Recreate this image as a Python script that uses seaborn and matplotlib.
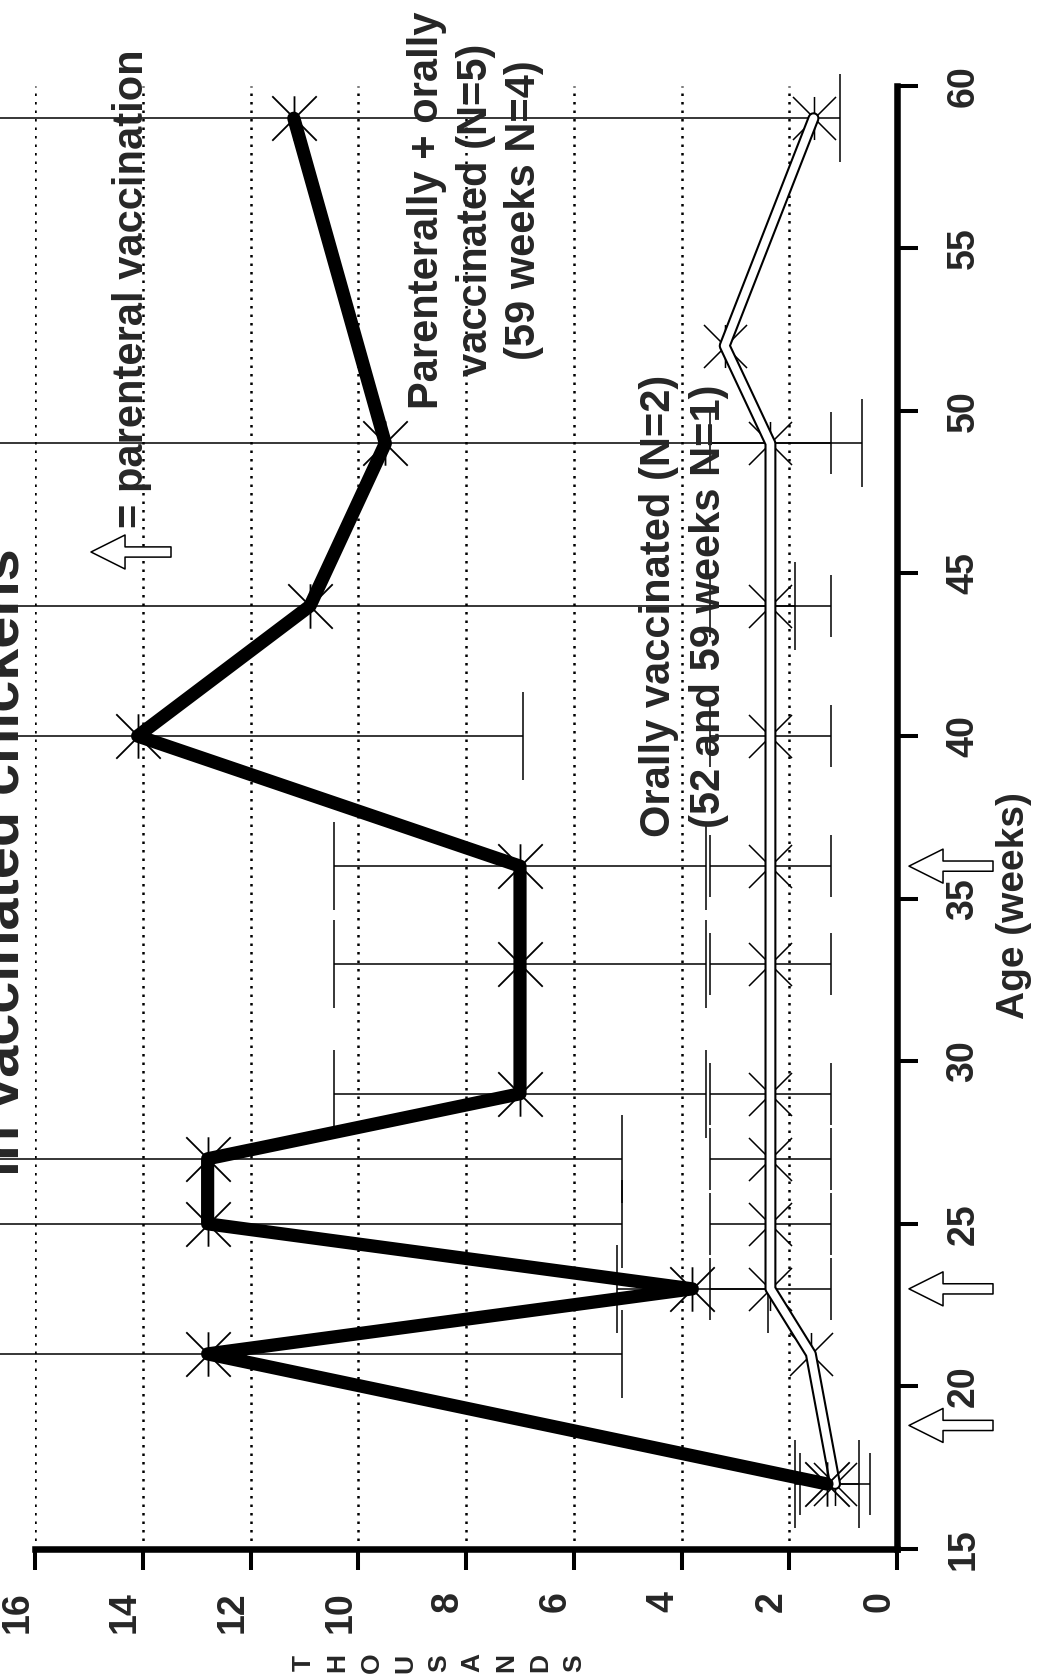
import numpy as np
import pandas as pd
import matplotlib
matplotlib.use("Agg")
import matplotlib.pyplot as plt
from matplotlib.path import Path
import seaborn as sns

# ---------------- data ----------------
ages_parent = [17, 21, 23, 25, 27, 29, 33, 36, 40, 44, 49, 59]
titre_parent = [1.3, 12.8, 3.8, 12.8, 12.8, 7.0, 7.0, 7.0, 14.1, 10.9, 9.5, 11.2]
sd_parent = [0.6, 7.7, 1.4, 7.7, 7.7, 3.45, 3.45, 3.45, 7.15, 9.0, 8.85, 10.15]

ages_oral = [17, 21, 23, 25, 27, 29, 33, 36, 40, 44, 49, 52, 59]
titre_oral = [1.15, 1.6, 2.35, 2.35, 2.35, 2.35, 2.35, 2.35, 2.35, 2.35, 2.35, 3.2, 1.55]
sd_oral = [0.65, np.nan, 1.12, 1.12, 1.12, 1.12, 1.12, 1.12, 1.12, 1.12, 1.12, np.nan, np.nan]

vacc_ages = [18.8, 23, 36]

value_ticks = [0, 2, 4, 6, 8, 10, 12, 14, 16]
age_ticks = [15, 20, 25, 30, 35, 40, 45, 50, 55, 60]

title_text = "in vaccinated chickens"
ylab_letters = "THOUSANDS"
age_label = "Age (weeks)"
label_parent = ["Parenterally + orally", "vaccinated (N=5)", "(59 weeks N=4)"]
label_oral = ["Orally vaccinated (N=2)", "(52 and 59 weeks N=1)"]
legend_text = "= parenteral vaccination"

# ---------------- style ----------------
sns.set_style("white")
plt.rcParams['font.family'] = ['Liberation Sans', 'DejaVu Sans']
plt.rcParams['axes.edgecolor'] = 'black'

W, H = 1045, 1677
fig = plt.figure(figsize=(W / 100, H / 100), dpi=100)
x0, x1 = 35.3, 897.0     # pixel x of value 16 and value 0
y0, y1 = 1549.0, 85.7    # pixel y (from top) of age 15 and age 60
ax = fig.add_axes([x0 / W, 1 - y0 / H, (x1 - x0) / W, (y0 - y1) / H])

star = Path([(-1, -1), (1, 1), (-1, 1), (1, -1), (0, -1), (0, 1)],
            [Path.MOVETO, Path.LINETO, Path.MOVETO, Path.LINETO, Path.MOVETO, Path.LINETO])

df_p = pd.DataFrame({"age": ages_parent, "titre": titre_parent, "sd": sd_parent})
df_o = pd.DataFrame({"age": ages_oral, "titre": titre_oral, "sd": sd_oral})

# error bars
def draw_err(df, capsize, z):
    d = df.dropna(subset=["sd"])
    cont = ax.errorbar(d["titre"], d["age"], xerr=d["sd"], fmt="none", ecolor="black",
                       elinewidth=1.1, capsize=capsize, capthick=1.1, zorder=z)
    for part in cont.lines:
        if part is None:
            continue
        items = part if isinstance(part, (tuple, list)) else [part]
        for a in items:
            a.set_clip_on(False)

draw_err(df_p, 32, 2)
draw_err(df_o, 22, 2)

# orally vaccinated: double (outlined) line with markers under the white core
sns.lineplot(data=df_o, x="titre", y="age", orient="y", estimator=None, sort=True,
             color="black", linewidth=8.6, marker=star, markersize=31,
             markeredgecolor="black", markerfacecolor="none", markeredgewidth=1.1,
             ax=ax, zorder=3)
sns.lineplot(data=df_o, x="titre", y="age", orient="y", estimator=None, sort=True,
             color="white", linewidth=5.6, ax=ax, zorder=4)

# parenterally + orally: thick black line
sns.lineplot(data=df_p, x="titre", y="age", orient="y", estimator=None, sort=True,
             color="black", linewidth=9.5, solid_joinstyle="round",
             marker=star, markersize=32, markeredgecolor="black",
             markerfacecolor="none", markeredgewidth=1.3, ax=ax, zorder=5)

# ---------------- axes ----------------
ax.set_xlim(16, 0)
ax.set_ylim(15, 60)
ax.set_xticks(value_ticks)
ax.set_yticks(age_ticks)
ax.yaxis.tick_right()
ax.set_xticklabels([str(v) for v in value_ticks], rotation=90, ha="right",
                   fontsize=27, fontweight="bold")
ax.set_yticklabels([str(v) for v in age_ticks], rotation=90, va="center",
                   fontsize=27, fontweight="bold")
ax.tick_params(axis="both", direction="out", length=15, width=2.9, color="black")
ax.tick_params(axis="x", bottom=True, top=False, pad=15.5)
ax.tick_params(axis="y", right=True, left=False, pad=20)
for s in ["top", "left"]:
    ax.spines[s].set_visible(False)
for s in ["bottom", "right"]:
    ax.spines[s].set_linewidth(4.7)
    ax.spines[s].set_color("black")
ax.xaxis.grid(True, linestyle=(0, (1, 2.4)), linewidth=1.8, color="black")
ax.yaxis.grid(False)
ax.set_xlabel("")

ax.yaxis.set_label_position("right")
ax.set_ylabel(age_label, fontsize=28, fontweight="bold")
lab = ax.yaxis.label
lab.set_rotation(90)
lab.set_rotation_mode("anchor")
lab.set_ha("center")
lab.set_va("baseline")
ax.yaxis.set_label_coords((1024 - x0) / (x1 - x0), (y0 - 906) / (y0 - y1))

# ---------------- texts ----------------
def ftext(xp, yp, s, size, **kw):
    fig.text(xp / W, 1 - yp / H, s, rotation=90, rotation_mode="anchor",
             ha="center", va="baseline", fontsize=size, fontweight="bold", **kw)

ftext(19, 862, title_text, 41.5)
for line, bx in zip(label_parent, [438, 487, 535]):
    ftext(bx, 210, line, 30)
for line, bx in zip(label_oral, [670, 720]):
    ftext(bx, 606, line, 30)
ftext(143, 289, legend_text, 30)

for i, ch in enumerate(ylab_letters):
    fig.text((304 + i * 33.75) / W, 1 - 1663 / H, ch, rotation=90, ha="center",
             va="center", fontsize=19, fontweight="bold")

# ---------------- hollow arrows ----------------
arrow_props = dict(arrowstyle="simple,head_length=1,head_width=1,tail_width=0.3",
                   mutation_scale=24.5, fc="white", ec="black", lw=1.1,
                   shrinkA=0, shrinkB=0)
for a in vacc_ages:
    ax.annotate("", xy=(909, a), xytext=(993, a),
                xycoords=("figure pixels", "data"), textcoords=("figure pixels", "data"),
                arrowprops=arrow_props, annotation_clip=False)
ax.annotate("", xy=(91, H - 552), xytext=(171, H - 552),
            xycoords="figure pixels", textcoords="figure pixels",
            arrowprops=arrow_props, annotation_clip=False)

fig.savefig("out.png", dpi=100)
